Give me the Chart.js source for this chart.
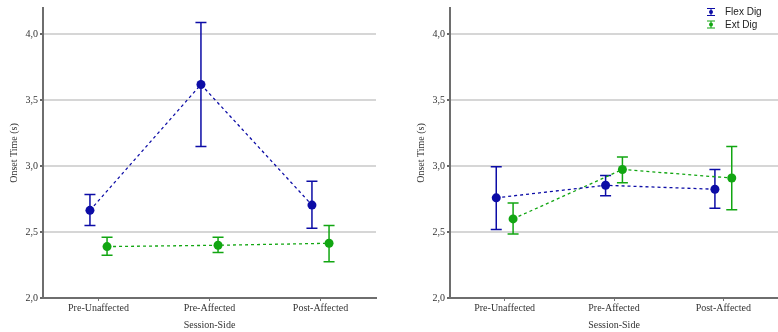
<!DOCTYPE html>
<html>
<head>
<meta charset="utf-8">
<script src="https://cdn.jsdelivr.net/npm/chart.js@4"></script>
<style>
  body { margin: 0; background: #fff; }
  #wrap { position: relative; width: 778px; height: 332px; }
  canvas { position: absolute; top: 0; }
</style>
</head>
<body>
<div id="wrap">
  <canvas id="leftChart" width="389" height="332" style="left:0"></canvas>
  <canvas id="rightChart" width="389" height="332" style="left:389px"></canvas>
</div>
<script>
const categories = ["Pre-Unaffected", "Pre-Affected", "Post-Affected"];
const yTicks = [2.0, 2.5, 3.0, 3.5, 4.0];

// left panel
const leftFlexMean = [2.665, 3.62, 2.705];
const leftFlexLow  = [2.55, 3.15, 2.53];
const leftFlexHigh = [2.785, 4.09, 2.885];
const leftExtMean  = [2.39, 2.40, 2.415];
const leftExtLow   = [2.325, 2.345, 2.275];
const leftExtHigh  = [2.46, 2.46, 2.55];

// right panel
const rightFlexMean = [2.76, 2.855, 2.825];
const rightFlexLow  = [2.52, 2.775, 2.68];
const rightFlexHigh = [2.995, 2.93, 2.975];
const rightExtMean  = [2.60, 2.975, 2.91];
const rightExtLow   = [2.485, 2.875, 2.67];
const rightExtHigh  = [2.72, 3.07, 3.15];

const FLEX = "#0c0ca6";
const EXT = "#12a612";
const dodge = 0.077;

function series(means, lows, highs, shift) {
    return means.map((m, i) => ({ x: i + shift, y: m, lo: lows[i], hi: highs[i] }));
}

// error bars drawn behind the points
const errorBars = {
    id: "errorBars",
    beforeDatasetsDraw(chart) {
        const ctx = chart.ctx;
        const xs = chart.scales.x, ys = chart.scales.y;
        chart.data.datasets.forEach(ds => {
            ctx.save();
            ctx.strokeStyle = ds.borderColor;
            ctx.lineWidth = 1.5;
            ds.data.forEach(p => {
                const x = xs.getPixelForValue(p.x);
                const y1 = ys.getPixelForValue(p.lo);
                const y2 = ys.getPixelForValue(p.hi);
                ctx.beginPath();
                ctx.moveTo(x, y1); ctx.lineTo(x, y2);
                ctx.moveTo(x - 5.5, y1); ctx.lineTo(x + 5.5, y1);
                ctx.moveTo(x - 5.5, y2); ctx.lineTo(x + 5.5, y2);
                ctx.stroke();
            });
            ctx.restore();
        });
    }
};

const legendBox = {
    id: "legendBox",
    afterDraw(chart, args, opts) {
        if (!opts.show) return;
        const ctx = chart.ctx;
        ctx.save();
        chart.data.datasets.forEach((ds, i) => {
            const ix = 322, iy = 12 + i * 12.5;
            ctx.strokeStyle = ds.borderColor;
            ctx.fillStyle = ds.borderColor;
            ctx.lineWidth = 1;
            ctx.beginPath();
            ctx.moveTo(ix - 4, iy - 3.5); ctx.lineTo(ix + 4, iy - 3.5);
            ctx.moveTo(ix - 4, iy + 3.5); ctx.lineTo(ix + 4, iy + 3.5);
            ctx.moveTo(ix, iy - 3.5); ctx.lineTo(ix, iy + 3.5);
            ctx.stroke();
            ctx.beginPath();
            ctx.arc(ix, iy, 2, 0, Math.PI * 2);
            ctx.fill();
            ctx.fillStyle = "#222";
            ctx.font = "10px 'Liberation Sans'";
            ctx.textBaseline = "middle";
            ctx.fillText(ds.label, 336, iy + 0.5);
        });
        ctx.restore();
    }
};

function makeChart(id, flex, ext, leftPad, rightPad, showLegend) {
    const serif = { family: "'Liberation Serif'", size: 10 };
    return new Chart(document.getElementById(id), {
        type: "line",
        data: {
            datasets: [
                { label: "Flex Dig", data: flex, borderColor: FLEX, backgroundColor: FLEX },
                { label: "Ext Dig", data: ext, borderColor: EXT, backgroundColor: EXT }
            ].map(d => Object.assign(d, {
                borderWidth: 1.3, borderDash: [3, 3], pointRadius: 4.5, pointBorderWidth: 0,
                pointBackgroundColor: d.borderColor, tension: 0
            }))
        },
        options: {
            responsive: false,
            animation: false,
            events: [],
            layout: { autoPadding: false, padding: { top: 8, left: leftPad, right: rightPad, bottom: 0 } },
            plugins: {
                legend: { display: false },
                tooltip: { enabled: false },
                legendBox: { show: showLegend }
            },
            scales: {
                x: {
                    type: "linear", min: -0.5, max: 2.5,
                    afterBuildTicks: s => { s.ticks = categories.map((c, i) => ({ value: i })); },
                    afterFit: s => { s.height = 34; s.paddingLeft = 0; s.paddingRight = 0; },
                    grid: { drawOnChartArea: false, tickLength: 3, tickColor: "#777" },
                    border: { color: "#6e6e6e", width: 2 },
                    ticks: { font: serif, color: "#333", padding: 1, maxRotation: 0,
                             callback: v => categories[v] },
                    title: { display: true, text: "Session-Side", font: serif, color: "#333",
                             padding: { top: 0, bottom: 1 } }
                },
                y: {
                    min: 2.0, max: 4.2,
                    afterBuildTicks: s => { s.ticks = yTicks.map(v => ({ value: v })); },
                    afterFit: s => { s.width = 43; s.paddingTop = 0; s.paddingBottom = 0; },
                    grid: { color: "#d6d6d6", lineWidth: 2, tickLength: 3, tickColor: "#666" },
                    border: { color: "#6e6e6e", width: 2 },
                    ticks: { font: serif, color: "#333", padding: 2,
                             callback: v => v.toFixed(1).replace(".", ",") },
                    title: { display: true, text: "Onset Time (s)", font: serif, color: "#333",
                             padding: { top: 8, bottom: 0 } }
                }
            }
        },
        plugins: [errorBars, legendBox]
    });
}

makeChart("leftChart",
    series(leftFlexMean, leftFlexLow, leftFlexHigh, -dodge),
    series(leftExtMean, leftExtLow, leftExtHigh, dodge),
    0, 13, false);

makeChart("rightChart",
    series(rightFlexMean, rightFlexLow, rightFlexHigh, -dodge),
    series(rightExtMean, rightExtLow, rightExtHigh, dodge),
    18, 0, true);
</script>
</body>
</html>
